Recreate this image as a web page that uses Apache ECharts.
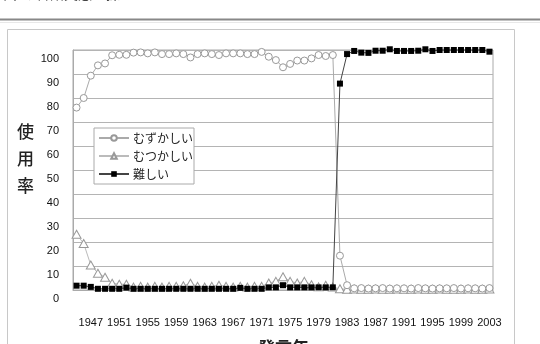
<!DOCTYPE html>
<html>
<head>
<meta charset="utf-8">
<script src="https://cdn.jsdelivr.net/npm/echarts@6/dist/echarts.min.js"></script>
<style>
html,body{margin:0;padding:0;background:#fff;}
#c{width:540px;height:344px;}
</style>
</head>
<body>
<div id="c"></div>
<script>
const years = ['1945','1946','1947','1948','1949','1950','1951','1952','1953','1954','1955','1956','1957','1958','1959','1960','1961','1962','1963','1964','1965','1966','1967','1968','1969','1970','1971','1972','1973','1974','1975','1976','1977','1978','1979','1980','1981','1982','1983','1984','1985','1986','1987','1988','1989','1990','1991','1992','1993','1994','1995','1996','1997','1998','1999','2000','2001','2002','2003'];

const muzukashii = [76,80,89.3,93.6,94.4,97.8,98,98,98.9,99,98.6,99,98.3,98.3,98.6,98.3,96.9,98.3,98.6,98.3,97.9,98.6,98.6,98.6,98.3,98.3,99.2,97.2,95.8,92.8,94.2,95.6,95.6,96.5,97.9,97.5,97.9,14.3,2,0.7,0.8,0.6,0.7,0.8,0.6,0.7,0.7,0.6,0.8,0.7,0.6,0.7,0.7,0.8,0.6,0.7,0.7,0.6,0.8];

const mutsukashii = [23.2,19.4,10.4,7,5.3,2.8,2.4,2.4,1.2,1.5,1.2,1.5,1.2,1.5,1.5,1.8,2.8,1.5,1.2,1.5,2.0,1.5,1.2,1.5,1.2,1.5,1.5,2.9,3.6,5.5,3.6,2.9,3.6,2.2,1.3,2.0,1.2,0.5,0.3,0.4,0.3,0.3,0.4,0.3,0.3,0.4,0.3,0.3,0.4,0.3,0.3,0.4,0.3,0.3,0.3,0.4,0.3,0.3,0.4];

const nanshii = [1.8,1.8,1.3,0.5,0.5,0.5,0.5,1.0,0.5,0.5,0.5,0.5,0.5,0.5,0.5,0.5,0.5,0.5,0.5,0.5,0.5,0.5,0.5,0.9,0.5,0.5,0.5,1.1,1.1,2.0,1.1,1.1,1.1,1.1,1.1,1.1,1.1,86,98.3,99.6,98.9,98.8,99.7,99.7,100.3,99.6,99.6,99.6,99.7,100.3,99.6,100,100,100,100,100,100,100,99.3];

const yTicks = {min:0, max:100, interval:10};
const seriesNames = ['むずかしい','むつかしい','難しい'];

const numFont = "'Liberation Sans', Arial, 'Noto Sans CJK JP', sans-serif";
const jpFont = "'Noto Sans CJK JP', sans-serif";

const chart = echarts.init(document.getElementById('c'), null, {renderer:'canvas'});
chart.setOption({
  animation:false,
  backgroundColor:'#fff',
  grid:{left:73, right:47, top:50, bottom:54, show:true, borderColor:'#aaa', borderWidth:1, containLabel:false},
  graphic:[
    {type:'rect', shape:{x:7.5, y:29.5, width:507, height:330}, style:{fill:'none', stroke:'#c8c8c8', lineWidth:1}, z:-1},
    {type:'line', shape:{x1:0, y1:19.5, x2:540, y2:19.5}, style:{stroke:'#888', lineWidth:2}},
    {type:'line', shape:{x1:0, y1:22.5, x2:540, y2:22.5}, style:{stroke:'#e8e8e8', lineWidth:1}},
    {type:'text', left:-6, top:-13, style:{text:'日本の言語実態を探る', font:"14px 'Noto Sans CJK JP'", fill:'#444'}},
    {type:'text', left:529, top:-13, style:{text:'3', font:"14px 'Liberation Sans'", fill:'#444'}},
    {type:'text', left:17, top:118, style:{text:'使\n用\n率', font:"500 17px 'Noto Sans CJK JP'", lineHeight:27, fill:'#222', align:'left'}},
    {type:'text', left:258, top:339, style:{text:'発言年', font:"bold 17px 'Noto Sans CJK JP'", fill:'#222'}}
  ],
  legend:{
    orient:'vertical', left:94, top:128,
    backgroundColor:'#fff', borderColor:'#aaa', borderWidth:1,
    padding:[4,1,4,4], itemGap:6, itemWidth:30, itemHeight:7,
    textStyle:{fontFamily:jpFont, fontSize:12, color:'#222', padding:[0,0,0,-1]},
    data:seriesNames
  },
  xAxis:{
    type:'category', data:years, boundaryGap:true,
    axisLine:{show:true, lineStyle:{color:'#aaa'}},
    axisTick:{show:false},
    axisLabel:{
      interval:function(i){return (i-2)%4===0;},
      margin:27, fontSize:11, color:'#111', fontFamily:numFont
    },
    splitLine:{show:false}
  },
  yAxis:{
    type:'value', min:yTicks.min, max:yTicks.max, interval:yTicks.interval,
    axisLine:{show:true, lineStyle:{color:'#aaa'}},
    axisTick:{show:false},
    axisLabel:{margin:14, fontSize:11, color:'#111', fontFamily:numFont, verticalAlign:'top', padding:[3,0,0,0]},
    splitLine:{show:true, lineStyle:{color:'#b4b4b4', width:1}}
  },
  series:[
    {name:seriesNames[0], type:'line', data:muzukashii, clip:false,
     symbol:'circle', symbolSize:7, showAllSymbol:true,
     lineStyle:{color:'#aaa', width:1}, itemStyle:{color:'#fff', borderColor:'#999', borderWidth:1}, z:3},
    {name:seriesNames[1], type:'line', data:mutsukashii, clip:false,
     symbol:'triangle', symbolSize:[9,8], showAllSymbol:true,
     lineStyle:{color:'#bbb', width:1}, itemStyle:{color:'#fff', borderColor:'#999', borderWidth:1}, z:2},
    {name:seriesNames[2], type:'line', data:nanshii, clip:false,
     symbol:'rect', symbolSize:6, showAllSymbol:true,
     lineStyle:{color:'#444', width:1}, itemStyle:{color:'#000', borderColor:'#000', borderWidth:0}, z:4}
  ]
});
</script>
</body>
</html>
